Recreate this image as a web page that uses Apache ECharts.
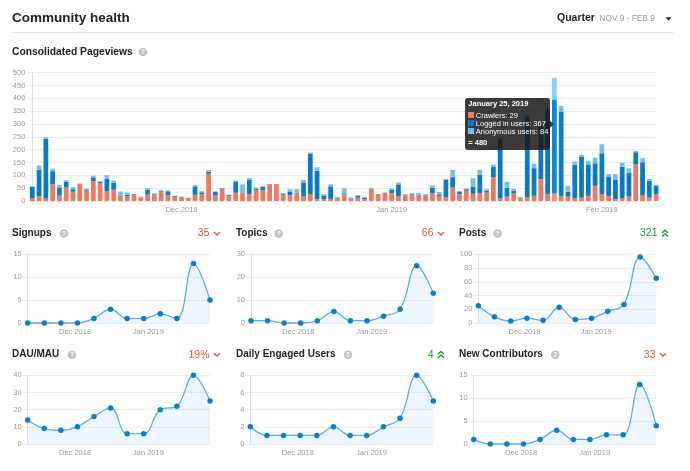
<!DOCTYPE html>
<html>
<head>
<meta charset="utf-8">
<script src="https://cdn.jsdelivr.net/npm/echarts@6/dist/echarts.min.js"></script>
<style>
  html, body { margin: 0; padding: 0; background: #fff; }
  #main { width: 690px; height: 471px; }
</style>
</head>
<body>
<div id="main"></div>
<script>
// consolidated pageviews, one bar per day starting Nov 9 2018
const pageviewStart = [2018, 10, 9];
const crawlers = [
  10, 18, 10, 65, 21, 53, 36, 68, 40, 78, 69, 37, 44, 18, 18, 23, 13, 25, 23, 34,
  23, 16, 16, 12, 24, 27, 106, 21, 46, 19, 32, 30, 27, 42, 43, 66, 66, 23, 22, 30,
  17, 27, 7, 7, 8, 10, 26, 10, 13, 7, 47, 27, 33, 30, 18, 25, 22, 21, 21, 30,
  20, 14, 52, 27, 40, 28, 30, 33, 92, 10, 17, 30, 11, 14, 20, 85, 25, 29, 20, 17,
  10, 13, 20, 59, 26, 20, 7, 10, 17, 143, 21, 13, 26
];
const loggedIn = [
  45, 104, 232, 51, 32, 21, 10, 0, 3, 14, 5, 49, 27, 3, 7, 3, 1, 20, 3, 4,
  15, 3, 0, 0, 33, 7, 8, 14, 3, 4, 44, 3, 55, 5, 13, 0, 0, 4, 13, 3,
  55, 157, 111, 15, 49, 2, 4, 1, 7, 6, 1, 0, 0, 13, 47, 1, 4, 4, 2, 21,
  6, 68, 41, 8, 6, 28, 72, 6, 42, 232, 35, 9, 1, 315, 108, 205, 330, 367, 329, 19,
  131, 160, 123, 88, 160, 75, 75, 124, 94, 47, 130, 66, 33
];
const anonymous = [
  3, 17, 6, 10, 9, 7, 8, 0, 6, 7, 3, 15, 9, 16, 8, 1, 3, 5, 4, 4,
  3, 2, 1, 1, 5, 5, 7, 3, 1, 2, 3, 32, 7, 6, 2, 0, 0, 4, 11, 13,
  10, 5, 13, 5, 8, 4, 20, 3, 3, 4, 3, 0, 1, 6, 7, 1, 5, 6, 4, 10,
  9, 4, 28, 4, 3, 33, 20, 7, 7, 8, 23, 8, 4, 6, 17, 10, 7, 84, 22, 23,
  13, 7, 13, 22, 35, 10, 23, 16, 17, 5, 16, 7, 3
];
const highlightDay = '2019-01-25';

// weekly report points, first week starts Nov 11 2018
const weekStart = [2018, 10, 11];
const signups = [0, 0, 0, 0, 1, 3, 1, 1, 2, 1, 13, 5];
const topics = [1, 1, 0, 0, 1, 5, 1, 1, 3, 6, 25, 13];
const posts = [25, 9, 3, 7, 4, 23, 5, 7, 17, 27, 96, 65];
const dauMau = [14, 9, 8, 10, 16, 21, 6, 6, 20, 22, 40, 25];
const engagedUsers = [2, 1, 1, 1, 1, 2, 1, 1, 2, 3, 8, 5];
const newContributors = [1, 0, 0, 0, 1, 3, 1, 1, 2, 2, 13, 4];

const reportTitles = ['Signups', 'Topics', 'Posts', 'DAU/MAU', 'Daily Engaged Users', 'New Contributors'];
const reportChanges = ['35', '66', '321', '19%', '4', '33'];
const reportTrends = ['down', 'down', 'up', 'down', 'up', 'down'];
const reportMax = [15, 30, 100, 40, 8, 15];
const reportStep = [5, 10, 20, 10, 2, 5];
const reportData = [signups, topics, posts, dauMau, engagedUsers, newContributors];

const monthShort = ['Jan', 'Feb', 'Mar', 'Apr', 'May', 'Jun', 'Jul', 'Aug', 'Sep', 'Oct', 'Nov', 'Dec'];
const monthLong = ['January', 'February', 'March', 'April', 'May', 'June', 'July', 'August', 'September', 'October', 'November', 'December'];

const FONT = '"Liberation Sans", Arial, Helvetica, sans-serif';
const GRAY = '#999';
const RED = '#e45735';
const GREEN = '#1d9b2e';
const GRID_LINE = '#ececec';
const DAY = 86400000;

function addDays(p, n) { return new Date(p[0], p[1], p[2] + n); }
function pad(n) { return (n < 10 ? '0' : '') + n; }
function isoDay(d) { return d.getFullYear() + '-' + pad(d.getMonth() + 1) + '-' + pad(d.getDate()); }
function monthLabel(d) { return monthShort[d.getMonth()] + ' ' + d.getFullYear(); }

const days = crawlers.map((_, i) => addDays(pageviewStart, i));
const dayKeys = days.map(isoDay);
// weekly points as day offsets from the first week
const weekOffsets = signups.map((_, i) => i * 7);
const firstWeek = addDays(weekStart, 0).getTime();
const monthTicks = [new Date(2018, 11, 1), new Date(2019, 0, 1)].map(d => Math.round((d.getTime() - firstWeek) / DAY));

// panel layout (title x, title y, help icon x, first/last point x, right edge of the change figure)
const panelX = [12, 236, 459, 12, 236, 459];
const panelY = [233.5, 233.5, 233.5, 354.7, 354.7, 354.7];
const helpX = [64, 278.7, 497.5, 72, 348, 555.3];
const plotLeft = [27.7, 251, 478.3, 27.7, 250.3, 473.7];
const plotRight = [210, 433.3, 656.3, 210, 433.3, 656.3];
const changeEnd = [220, 444, 668, 220, 444, 666];
const rowTop = [254.3, 254.3, 254.3, 375.3, 375.3, 375.3];
const plotHeight = 68.7;

const chart = echarts.init(document.getElementById('main'));

function helpIcon(x, y) {
  return [
    { type: 'circle', shape: { cx: x, cy: y, r: 4.3 }, style: { fill: '#c2c2c2' } },
    { type: 'text', x: x, y: y + 0.3, style: { text: '?', fill: '#fff', font: 'bold 6.5px ' + FONT, align: 'center', verticalAlign: 'middle' } }
  ];
}

function trendIcon(end, y, trend) {
  if (trend === 'down') {
    return [{ type: 'polyline', shape: { points: [[end - 6, y - 1.5], [end - 3, y + 1.5], [end, y - 1.5]] },
      style: { stroke: RED, lineWidth: 1.4, fill: null } }];
  }
  return [
    { type: 'polyline', shape: { points: [[end - 6, y - 0.5], [end - 3, y - 3.3], [end, y - 0.5]] },
      style: { stroke: GREEN, lineWidth: 1.4, fill: null } },
    { type: 'polyline', shape: { points: [[end - 6, y + 3], [end - 3, y + 0.2], [end, y + 3]] },
      style: { stroke: GREEN, lineWidth: 1.4, fill: null } }
  ];
}

let graphics = [
  { type: 'text', x: 12, y: 18, style: { text: 'Community health', fill: '#222', font: 'bold 13.5px ' + FONT, verticalAlign: 'middle' } },
  { type: 'text', x: 557, y: 18.5, style: { text: 'Quarter', fill: '#222', font: 'bold 10.5px ' + FONT, verticalAlign: 'middle' } },
  { type: 'text', x: 599.5, y: 18.8, style: { text: 'NOV 9 - FEB 9', fill: GRAY, font: '8.3px ' + FONT, verticalAlign: 'middle' } },
  { type: 'polygon', shape: { points: [[665.5, 17.3], [671.5, 17.3], [668.5, 20.8]] }, style: { fill: '#333' } },
  { type: 'line', shape: { x1: 12, y1: 32.5, x2: 674, y2: 32.5 }, style: { stroke: '#e9e9e9', lineWidth: 1 } },
  { type: 'text', x: 12, y: 52, style: { text: 'Consolidated Pageviews', fill: '#222', font: 'bold 10.3px ' + FONT, verticalAlign: 'middle' } },
  // pointer of the tooltip box
  { type: 'polygon', z: 100, shape: { points: [[550, 120.8], [553.6, 124.3], [550, 127.8]] }, style: { fill: 'rgba(25,25,25,0.85)' } }
].concat(helpIcon(143, 52));

reportTitles.forEach((t, k) => {
  const y = panelY[k];
  graphics.push({ type: 'text', x: panelX[k], y: y, style: { text: t, fill: '#222', font: 'bold 10px ' + FONT, verticalAlign: 'middle' } });
  graphics = graphics.concat(helpIcon(helpX[k], y));
  graphics.push({ type: 'text', x: changeEnd[k] - 10.5, y: y, style: {
    text: reportChanges[k], fill: reportTrends[k] === 'up' ? GREEN : RED, font: '10.5px ' + FONT, align: 'right', verticalAlign: 'middle' } });
  graphics = graphics.concat(trendIcon(changeEnd[k], y, reportTrends[k]));
});

const grids = [{ left: 32.3, top: 72.7, width: 623.8, height: 128.3 }];
const xAxes = [{
  type: 'category', gridIndex: 0, data: dayKeys, boundaryGap: false,
  axisLine: { show: false }, axisTick: { show: false },
  axisLabel: {
    color: GRAY, fontSize: 7.5, margin: 5,
    interval: (i, v) => v.slice(8) === '01',
    formatter: (v) => monthLabel(new Date(+v.slice(0, 4), +v.slice(5, 7) - 1, 1))
  }
}];
const yAxes = [{
  type: 'value', gridIndex: 0, min: 0, max: 500, interval: 50,
  axisLine: { show: true, lineStyle: { color: '#e0e0e0' } },
  axisTick: { show: true, length: 5, lineStyle: { color: GRID_LINE } },
  splitLine: { lineStyle: { color: GRID_LINE } },
  axisLabel: { color: GRAY, fontSize: 7.5, margin: 7 }
}];
const series = [
  { name: 'Crawlers', data: crawlers, color: '#ec7a5e' },
  { name: 'Logged in users', data: loggedIn, color: '#0b7ac6' },
  { name: 'Anonymous users', data: anonymous, color: '#7fbce5' }
].map(s => ({
  type: 'bar', name: s.name, data: s.data, stack: 'pageviews', xAxisIndex: 0, yAxisIndex: 0,
  barWidth: '70%', clip: false, itemStyle: { color: s.color }
}));

reportData.forEach((arr, k) => {
  const idx = k + 1;
  grids.push({ left: plotLeft[k], top: rowTop[k], width: plotRight[k] - plotLeft[k], height: plotHeight });
  xAxes.push({
    type: 'value', gridIndex: idx, min: 0, max: weekOffsets[weekOffsets.length - 1],
    axisLine: { show: false }, axisTick: { show: false }, splitLine: { show: false },
    axisLabel: { color: GRAY, fontSize: 7.5, margin: 5, customValues: monthTicks,
      formatter: (v) => monthLabel(addDays(weekStart, v)) }
  });
  yAxes.push({
    type: 'value', gridIndex: idx, min: 0, max: reportMax[k], interval: reportStep[k],
    axisLine: { show: true, lineStyle: { color: '#e0e0e0' } },
    axisTick: { show: true, length: 5, lineStyle: { color: GRID_LINE } },
    splitLine: { lineStyle: { color: GRID_LINE } },
    axisLabel: { color: GRAY, fontSize: 7.5, margin: 6 }
  });
  series.push({
    type: 'line', name: reportTitles[k], xAxisIndex: idx, yAxisIndex: idx,
    data: weekOffsets.map((t, i) => [t, arr[i]]),
    smooth: 0.4, symbol: 'circle', symbolSize: 5.5, showSymbol: true, clip: false,
    lineStyle: { color: '#5aaee5', width: 1.3 },
    itemStyle: { color: '#0b7fcf' },
    areaStyle: { color: 'rgba(90,174,229,0.16)' }
  });
});

chart.setOption({
  animation: false,
  textStyle: { fontFamily: FONT },
  grid: grids,
  xAxis: xAxes,
  yAxis: yAxes,
  series: series,
  graphic: graphics,
  tooltip: {
    trigger: 'axis', triggerOn: 'none', alwaysShowContent: true,
    axisPointer: { type: 'none' },
    position: [465, 98],
    transitionDuration: 0,
    backgroundColor: 'rgba(25,25,25,0.85)', borderWidth: 0,
    padding: [1, 4, 2, 3.3],
    extraCssText: 'width:78px;box-shadow:none;border-radius:3px;',
    textStyle: { color: '#fff', fontSize: 7.5, fontFamily: FONT },
    formatter: function (params) {
      const d = days[params[0].dataIndex];
      let total = 0;
      let html = '<div style="font-weight:bold;line-height:10px;margin-bottom:2.5px">' +
        monthLong[d.getMonth()] + ' ' + d.getDate() + ', ' + d.getFullYear() + '</div>';
      params.forEach(p => {
        total += p.value;
        html += '<div style="line-height:8.2px;white-space:nowrap"><span style="display:inline-block;width:6px;height:6px;margin-right:1.5px;vertical-align:-0.5px;background:' +
          p.color + '"></span>' + p.seriesName + ': ' + p.value + '</div>';
      });
      html += '<div style="font-weight:bold;line-height:10px;margin-top:1.6px">= ' + total + '</div>';
      return html;
    }
  }
});

chart.dispatchAction({ type: 'showTip', seriesIndex: 0, dataIndex: dayKeys.indexOf(highlightDay) });
</script>
</body>
</html>
